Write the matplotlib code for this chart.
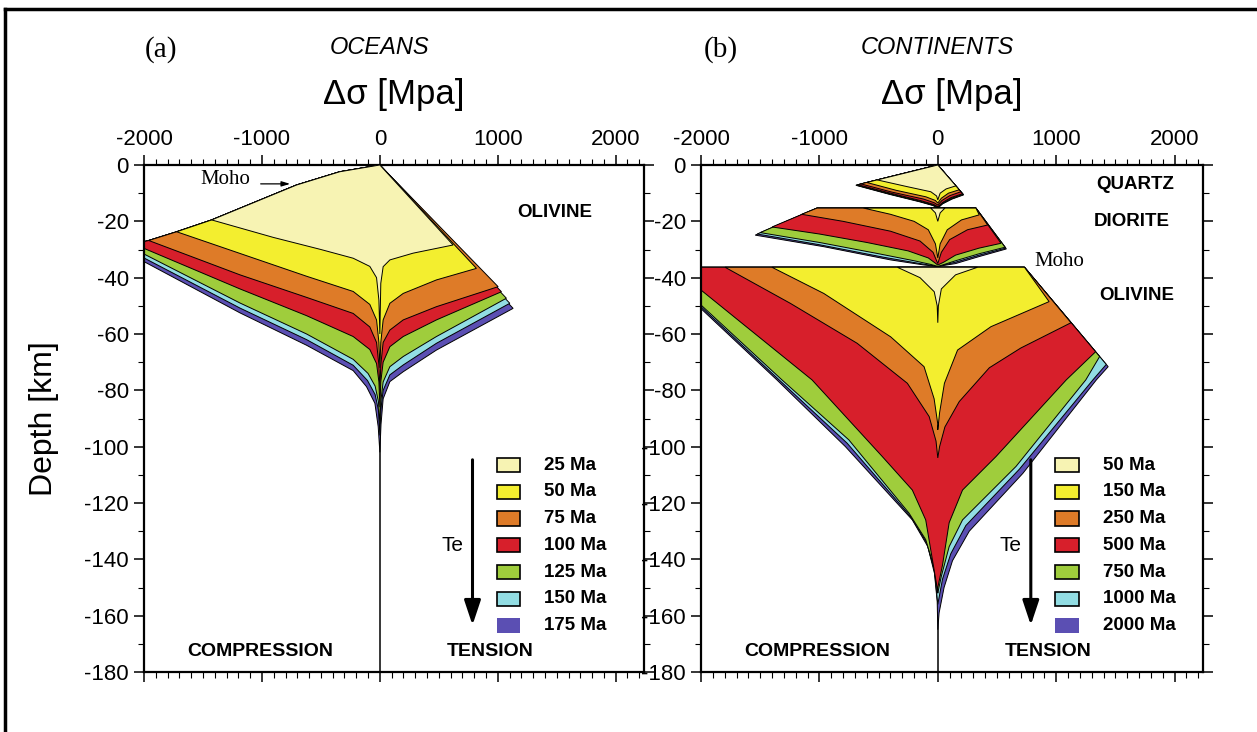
import matplotlib
matplotlib.use("Agg")
import matplotlib.pyplot as plt
from matplotlib.patches import Polygon, Rectangle
from matplotlib.lines import Line2D
from matplotlib.ticker import MultipleLocator

plt.rcParams["font.family"] = ["Liberation Sans", "DejaVu Sans"]
plt.rcParams["axes.unicode_minus"] = False

COLORS = ["#f7f3b3", "#f3ee2f", "#de7b28", "#d71f2b", "#9fcd3c", "#92dde3", "#5b4fb3"]

# ---------------- oceans (a) ----------------
OCEAN_AGES = ["25 Ma", "50 Ma", "75 Ma", "100 Ma", "125 Ma", "150 Ma", "175 Ma"]
# brittle limits (stress MPa, depth km)
OCEAN_BRITTLE_C = [(0, 0), (-340, -2.4), (-706, -7.1), (-1426, -19.5), (-1723, -23.7),
                   (-1960, -26.8), (-2000, -27.2)]
OCEAN_BRITTLE_T = [(0, 0)]
# ductile limits, compression side, per age
OCEAN_COMP = [
    [(-1426, -19.5), (-904, -25.7), (-500, -30), (-226, -33.1), (-85, -36), (-28, -40), (-8, -48), (0, -60)],
    [(-1723, -23.7), (-1186, -31.4), (-621, -39.5), (-226, -44.9), (-85, -49.5), (-28, -55), (-8, -63), (0, -72)],
    [(-1960, -26.8), (-1186, -39), (-621, -47), (-226, -52.7), (-85, -57.5), (-28, -63), (-8, -71), (0, -80)],
    [(-2000, -29.6), (-1186, -44), (-621, -53.5), (-226, -60.9), (-85, -65.5), (-28, -70.5), (-8, -77), (0, -86)],
    [(-2000, -31.6), (-1186, -49), (-621, -60), (-226, -69), (-100, -74), (-40, -78.5), (-12, -84), (0, -92)],
    [(-2000, -33), (-1186, -50.8), (-621, -62), (-226, -71.1), (-105, -76.5), (-40, -81.5), (-12, -87), (0, -96)],
    [(-2000, -34.3), (-1186, -52.5), (-621, -64), (-226, -73), (-113, -78.7), (-42, -84.6), (-14, -92.9), (0, -102)],
]
# ductile limits, tension side, per age
OCEAN_TENS = [
    [(621, -28.4), (282, -31.3), (85, -33.7), (28, -36.1), (8, -42), (0, -60)],
    [(819, -36.7), (480, -40.8), (198, -45.6), (85, -49.1), (28, -55), (8, -63), (0, -72)],
    [(1003, -43.2), (480, -50.3), (198, -55), (85, -58.6), (28, -63), (8, -71), (0, -80)],
    [(1031, -45), (480, -55), (198, -60.9), (85, -64.5), (28, -70), (8, -77), (0, -86)],
    [(1073, -47.3), (480, -60.9), (198, -68), (85, -71.6), (28, -77), (8, -84), (0, -92)],
    [(1102, -49.1), (480, -63.3), (198, -71), (85, -74.5), (28, -80), (8, -87), (0, -96)],
    [(1130, -50.9), (480, -65.7), (198, -73.4), (85, -76.9), (28, -83), (10, -92), (0, -102)],
]

# ---------------- continents (b) ----------------
CONT_AGES = ["50 Ma", "150 Ma", "250 Ma", "500 Ma", "750 Ma", "1000 Ma", "2000 Ma"]

QUARTZ_BRITTLE_C = [(0, 0)]
QUARTZ_BRITTLE_T = [(0, 0)]
QUARTZ_COMP = [
    [(-511, -5.3), (-257, -7.7), (-59, -9.5), (-10, -11), (0, -12.4)],
    [(-600, -6.2), (-350, -9), (-100, -11.3), (-20, -12.6), (0, -13.5)],
    [(-650, -6.7), (-390, -9.6), (-120, -12.1), (-30, -13.4), (0, -14.2)],
    [(-675, -7.0), (-400, -10), (-140, -12.7), (-35, -14), (0, -14.8)],
    [(-684, -7.1), (-405, -10.2), (-145, -12.9), (-38, -14.2), (0, -15)],
    [(-688, -7.15), (-408, -10.3), (-148, -13), (-40, -14.3), (0, -15.2)],
    [(-692, -7.2), (-410, -10.4), (-150, -13.1), (-40, -14.4), (0, -15.3)],
]
QUARTZ_TENS = [
    [(153, -7.4), (70, -8.5), (20, -10), (0, -12.4)],
    [(181, -8.8), (90, -10), (30, -11.8), (0, -13.5)],
    [(195, -9.5), (100, -10.9), (35, -12.6), (0, -14.2)],
    [(209, -10.2), (110, -11.6), (40, -13.3), (0, -14.8)],
    [(213, -10.4), (115, -11.8), (40, -13.5), (0, -15)],
    [(216, -10.5), (118, -12), (40, -13.7), (0, -15.2)],
    [(218, -10.6), (120, -12.1), (40, -13.8), (0, -15.3)],
]

DIORITE_BRITTLE_C = [(-1020, -15.3)]
DIORITE_BRITTLE_T = [(322, -15.3)]
DIORITE_COMP = [
    [(-60, -15.3), (-20, -17), (0, -20)],
    [(-627, -15.3), (-400, -17.5), (-200, -20), (-80, -23), (-20, -28), (0, -33)],
    [(-1150, -17.5), (-800, -20), (-400, -23.5), (-150, -27), (-40, -31), (0, -35)],
    [(-1400, -22), (-1000, -24.5), (-600, -27.5), (-250, -30.5), (-80, -33), (0, -35.5)],
    [(-1500, -24), (-1000, -27.5), (-500, -31.5), (-200, -34), (-60, -35.3), (0, -36)],
    [(-1525, -24.5), (-1000, -28.3), (-450, -32.8), (-150, -35), (0, -36)],
    [(-1542, -24.9), (-963, -29), (-398, -33.7), (-116, -35.5), (0, -36)],
]
DIORITE_TENS = [
    [(60, -15.3), (20, -17), (0, -20)],
    [(350, -17.7), (200, -19.5), (80, -23), (20, -28), (0, -33)],
    [(421, -21.3), (250, -23), (100, -26.5), (30, -31), (0, -35)],
    [(534, -27.8), (350, -29.5), (150, -32), (50, -34.5), (0, -35.5)],
    [(568, -29.2), (350, -31.5), (150, -34), (40, -35.5), (0, -36)],
    [(574, -29.5), (350, -32), (150, -34.5), (0, -36)],
    [(579, -29.8), (350, -32.5), (150, -35), (0, -36)],
]

OLIVINE_BRITTLE_C = [(-2000, -36.3)]
OLIVINE_BRITTLE_T = [(732, -36.3)]
OLIVINE_COMP = [
    [(-342, -36.3), (-150, -40), (-30, -45), (-5, -50), (0, -56)],
    [(-1401, -36.3), (-963, -45.6), (-398, -61), (-116, -71.6), (-31, -83), (0, -92)],
    [(-1797, -36.3), (-1246, -49.1), (-681, -63.3), (-257, -77.5), (-73, -89.3), (-15, -98), (0, -104)],
    [(-2000, -44.4), (-1062, -76.3), (-469, -103.5), (-215, -115.4), (-102, -126), (-46, -140), (-10, -149), (0, -152)],
    [(-2000, -49.7), (-1316, -76.3), (-751, -97.6), (-243, -123.6), (-102, -133), (-30, -143), (0, -152)],
    [(-2000, -50.3), (-1340, -76.3), (-765, -98.8), (-230, -124.8), (-95, -134), (-28, -144), (0, -156)],
    [(-2000, -51), (-1359, -76.3), (-780, -100), (-215, -126), (-84, -135.5), (-28, -145), (-5, -155), (0, -165)],
]
OLIVINE_TENS = [
    [(336, -36.3), (150, -39), (30, -44), (5, -50), (0, -56)],
    [(940, -48.5), (449, -57.4), (167, -65.7), (56, -77.5), (15, -88), (0, -94)],
    [(1125, -56), (700, -65), (435, -72), (181, -84), (60, -93), (15, -100), (0, -104)],
    [(1333, -66.3), (1085, -76.3), (492, -103.5), (209, -115.4), (96, -127), (40, -142), (0, -150)],
    [(1367, -68), (1250, -76.3), (661, -107), (209, -126), (96, -135.5), (30, -146), (0, -152)],
    [(1423, -70.8), (1310, -76.3), (689, -108), (237, -128), (110, -138), (40, -147), (0, -156)],
    [(1439, -71.6), (1339, -76.3), (718, -109.5), (266, -130), (124, -140.5), (53, -150), (11, -159), (0, -165)],
]


def draw_envelopes(ax, comp_list, tens_list, brittle_c, brittle_t):
    # oldest (largest) first so the younger ones sit on top
    for k in range(len(comp_list) - 1, -1, -1):
        comp = comp_list[k]
        tens = tens_list[k]
        top_c = [p for p in brittle_c if p[1] > comp[0][1]]
        top_t = [p for p in brittle_t if p[1] > tens[0][1]]
        pts = top_c + comp + tens[::-1] + top_t[::-1]
        ax.add_patch(Polygon(pts, closed=True, fc=COLORS[k], ec="black",
                             lw=0.7, zorder=2 + (7 - k) * 0.1))


def style_axes(ax):
    ax.set_xlim(-2000, 2240)
    ax.set_ylim(-180, 0)
    ax.xaxis.set_ticks_position("both")
    ax.xaxis.set_label_position("top")
    ax.tick_params(axis="x", labeltop=True, labelbottom=False)
    ax.yaxis.set_ticks_position("both")
    ax.xaxis.set_major_locator(MultipleLocator(1000))
    ax.xaxis.set_minor_locator(MultipleLocator(100))
    ax.yaxis.set_major_locator(MultipleLocator(20))
    ax.yaxis.set_minor_locator(MultipleLocator(10))
    ax.tick_params(which="major", direction="out", length=7, width=1.1, labelsize=16, pad=4)
    ax.tick_params(which="minor", direction="out", length=4, width=0.8)
    for s in ax.spines.values():
        s.set_linewidth(1.6)
    ax.axvline(0, color="black", lw=1.1, zorder=1)


def draw_legend(ax, labels):
    for i, lab in enumerate(labels):
        yc = 0.408 - i * 0.0527
        ec = "none" if i == len(labels) - 1 else "black"
        ax.add_patch(Rectangle((0.706, yc - 0.014), 0.046, 0.028, transform=ax.transAxes,
                               fc=COLORS[i], ec=ec, lw=1.2, zorder=5))
        ax.text(0.80, yc, lab, transform=ax.transAxes, ha="left", va="center",
                fontsize=13.5, fontweight="bold", zorder=5)
    ax.annotate("", xy=(0.657, 0.087), xytext=(0.657, 0.424),
                xycoords="axes fraction", textcoords="axes fraction",
                arrowprops=dict(arrowstyle="-|>,head_length=1.5,head_width=0.5",
                                color="black", lw=2.2), zorder=5)
    ax.text(0.617, 0.25, "Te", transform=ax.transAxes, ha="center", va="center", fontsize=15)
    ax.text(0.232, 0.041, "COMPRESSION", transform=ax.transAxes, ha="center", va="center",
            fontsize=14, fontweight="bold")
    ax.text(0.692, 0.041, "TENSION", transform=ax.transAxes, ha="center", va="center",
            fontsize=14, fontweight="bold")


fig = plt.figure(figsize=(12.57, 7.32), dpi=100)
ax1 = fig.add_axes([144 / 1257, 1 - 672 / 732, 500 / 1257, 507 / 732])
ax2 = fig.add_axes([701 / 1257, 1 - 672 / 732, 502 / 1257, 507 / 732])

# (a) oceans
style_axes(ax1)
draw_envelopes(ax1, OCEAN_COMP, OCEAN_TENS, OCEAN_BRITTLE_C, OCEAN_BRITTLE_T)
draw_legend(ax1, OCEAN_AGES)
ax1.text(1483, -16.7, "OLIVINE", ha="center", va="center", fontsize=13.5, fontweight="bold")
ax1.text(-1314, -5.3, "Moho", ha="center", va="center", fontsize=15, family="Liberation Serif")
ax1.annotate("", xy=(-737, -6.7), xytext=(-1034, -6.7),
             arrowprops=dict(arrowstyle="-|>,head_length=0.5,head_width=0.15", color="black", lw=0.9))
ax1.set_ylabel("Depth [km]", fontsize=23, labelpad=18)
ax1.set_xlabel("\u0394\u03c3 [Mpa]", fontsize=25, labelpad=18)

# (b) continents
style_axes(ax2)
draw_envelopes(ax2, OLIVINE_COMP, OLIVINE_TENS, OLIVINE_BRITTLE_C, OLIVINE_BRITTLE_T)
draw_envelopes(ax2, DIORITE_COMP, DIORITE_TENS, DIORITE_BRITTLE_C, DIORITE_BRITTLE_T)
draw_envelopes(ax2, QUARTZ_COMP, QUARTZ_TENS, QUARTZ_BRITTLE_C, QUARTZ_BRITTLE_T)
draw_legend(ax2, CONT_AGES)
ax2.text(1669, -7.1, "QUARTZ", ha="center", va="center", fontsize=13.5, fontweight="bold")
ax2.text(1636, -20.2, "DIORITE", ha="center", va="center", fontsize=13.5, fontweight="bold")
ax2.text(1678, -46.5, "OLIVINE", ha="center", va="center", fontsize=13.5, fontweight="bold")
ax2.text(1026, -34.3, "Moho", ha="center", va="center", fontsize=15, family="Liberation Serif")
ax2.set_xlabel("\u0394\u03c3 [Mpa]", fontsize=25, labelpad=18)

# panel titles
fig.text(380 / 1257, 1 - 48 / 732, "OCEANS", ha="center", va="center", fontsize=17, style="italic")
fig.text(937 / 1257, 1 - 48 / 732, "CONTINENTS", ha="center", va="center", fontsize=17, style="italic")
fig.text(161 / 1257, 1 - 50 / 732, "(a)", ha="center", va="center", fontsize=21, family="Liberation Serif")
fig.text(721 / 1257, 1 - 50 / 732, "(b)", ha="center", va="center", fontsize=21, family="Liberation Serif")

# page frame
fig.add_artist(Line2D([5 / 1257, 5 / 1257], [0, 1 - 9 / 732], color="black", lw=2.5))
fig.add_artist(Line2D([5 / 1257, 1], [1 - 9 / 732, 1 - 9 / 732], color="black", lw=2.5))

fig.savefig("out.png", dpi=100)
